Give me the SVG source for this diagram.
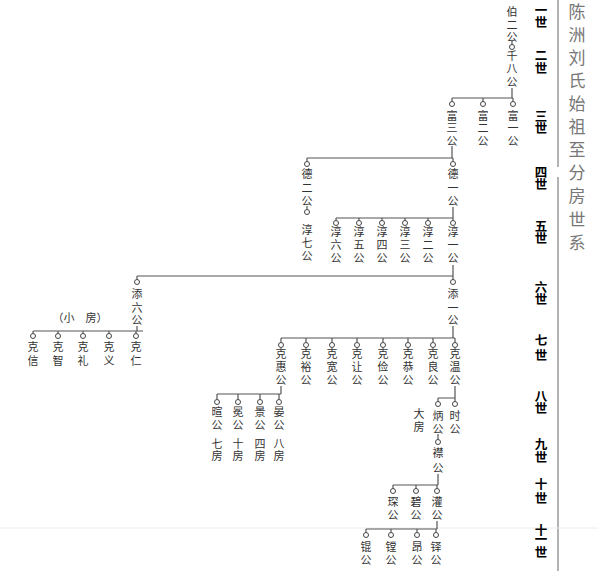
<svg xmlns="http://www.w3.org/2000/svg" width="598" height="571" viewBox="0 0 598 571">
<style>
.n{font-family:"Noto Sans CJK SC","Noto Sans CJK TC",sans-serif;font-size:11px;fill:#333;text-anchor:middle}
.g{font-family:"Noto Sans CJK SC",sans-serif;font-size:12.5px;font-weight:bold;fill:#000;text-anchor:middle}
.t{font-family:"Noto Sans CJK SC",sans-serif;font-size:17px;fill:#777;text-anchor:middle}
.c{fill:#fff;stroke:#444;stroke-width:1}
.l{fill:none;stroke:#555;stroke-width:1.2}
</style>
<rect width="598" height="571" fill="#fff"/>
<g id="frame">
<path d="M558,0V167M558,177V571" stroke="#999" stroke-width="1.5" fill="none"/>
<path d="M0,528H598" stroke="#ececec" stroke-width="1" fill="none"/>
</g>
<g id="title">
<text class="t"><tspan x="577" y="18">陈</tspan><tspan x="577" y="41">洲</tspan><tspan x="577" y="64">刘</tspan><tspan x="577" y="87">氏</tspan><tspan x="577" y="110">始</tspan><tspan x="577" y="133">祖</tspan><tspan x="577" y="156">至</tspan><tspan x="577" y="179">分</tspan><tspan x="577" y="202">房</tspan><tspan x="577" y="226">世</tspan><tspan x="577" y="249">系</tspan></text>
</g>
<g id="generations">
<text class="g"><tspan x="541" y="15">一</tspan><tspan x="541" y="27">世</tspan></text>
<text class="g"><tspan x="541" y="60">二</tspan><tspan x="541" y="73">世</tspan></text>
<text class="g"><tspan x="541" y="121">三</tspan><tspan x="541" y="133">世</tspan></text>
<text class="g"><tspan x="541" y="177">四</tspan><tspan x="541" y="189">世</tspan></text>
<text class="g"><tspan x="541" y="231">五</tspan><tspan x="541" y="243">世</tspan></text>
<text class="g"><tspan x="541" y="292">六</tspan><tspan x="541" y="304">世</tspan></text>
<text class="g"><tspan x="541" y="345">七</tspan><tspan x="541" y="360">世</tspan></text>
<text class="g"><tspan x="541" y="401">八</tspan><tspan x="541" y="413">世</tspan></text>
<text class="g"><tspan x="541" y="449">九</tspan><tspan x="541" y="462">世</tspan></text>
<text class="g"><tspan x="541" y="489">十</tspan><tspan x="541" y="503">世</tspan></text>
<text class="g"><tspan x="541" y="535">十</tspan><tspan x="541" y="544">一</tspan><tspan x="541" y="557">世</tspan></text>
</g>
<g id="connectors" class="l">
<path d="M512,41V44.5"/>
<path d="M512,88V98M452,98H513M452,98V101.5M483,98V101.5M513,98V101.5"/>
<path d="M452,146V158M307,158H453M307,158V161.5M453,158V161.5"/>
<path d="M307,206V209.5"/>
<path d="M453,207V218M336,218H453M336,218V220.5M359,218V220.5M382,218V220.5M405,218V220.5M428,218V220.5M453,218V220.5"/>
<path d="M453,265V276M137,276H453M137,276V279.5M453,276V279.5"/>
<path d="M453,326V338M281,338H455M281,338V342.5M306,338V342.5M332,338V342.5M357,338V342.5M383,338V342.5M408,338V342.5M433,338V342.5M455,338V342.5"/>
<path d="M137,326V331M33,331H143M33,331V333.5M58,331V333.5M83,331V333.5M109,331V333.5M136,331V333.5"/>
<path d="M281,386V394M217,394H281M217,394V399.5M238,394V399.5M260,394V399.5M279,394V399.5"/>
<path d="M455,386V398M438,398H455M438,398V401.5M455,398V401.5"/>
<path d="M438,434V439.5"/>
<path d="M438,474V485M393,485H438M393,485V488.5M416,485V488.5M437,485V488.5"/>
<path d="M437,521V529M366,529H437M366,529V532.5M391,529V532.5M417,529V532.5M436,529V532.5"/>
</g>
<g id="n-bo2"><text class="n"><tspan x="512" y="16">伯</tspan><tspan x="512" y="29">二</tspan><tspan x="512" y="41">公</tspan></text></g>
<g id="n-qian8"><circle class="c" cx="512" cy="47" r="2.5"/><text class="n"><tspan x="512" y="60">千</tspan><tspan x="512" y="73">八</tspan><tspan x="512" y="86">公</tspan></text></g>
<g id="n-fu3"><circle class="c" cx="452" cy="104" r="2.5"/><text class="n"><tspan x="452" y="120">富</tspan><tspan x="452" y="132">三</tspan><tspan x="452" y="145">公</tspan></text></g>
<g id="n-fu2"><circle class="c" cx="483" cy="104" r="2.5"/><text class="n"><tspan x="483" y="120">富</tspan><tspan x="483" y="132">二</tspan><tspan x="483" y="145">公</tspan></text></g>
<g id="n-fu1"><circle class="c" cx="513" cy="104" r="2.5"/><text class="n"><tspan x="513" y="120">富</tspan><tspan x="513" y="132">一</tspan><tspan x="513" y="145">公</tspan></text></g>
<g id="n-de2"><circle class="c" cx="307" cy="164" r="2.5"/><text class="n"><tspan x="307" y="178">德</tspan><tspan x="307" y="192">二</tspan><tspan x="307" y="205">公</tspan></text></g>
<g id="n-de1"><circle class="c" cx="453" cy="164" r="2.5"/><text class="n"><tspan x="453" y="178">德</tspan><tspan x="453" y="192">一</tspan><tspan x="453" y="205">公</tspan></text></g>
<g id="n-chun7"><circle class="c" cx="307" cy="212" r="2.5"/><text class="n"><tspan x="307" y="234">淳</tspan><tspan x="307" y="247">七</tspan><tspan x="307" y="260">公</tspan></text></g>
<g id="n-chun6"><circle class="c" cx="336" cy="223" r="2.5"/><text class="n"><tspan x="336" y="236">淳</tspan><tspan x="336" y="249">六</tspan><tspan x="336" y="262">公</tspan></text></g>
<g id="n-chun5"><circle class="c" cx="359" cy="223" r="2.5"/><text class="n"><tspan x="359" y="236">淳</tspan><tspan x="359" y="249">五</tspan><tspan x="359" y="262">公</tspan></text></g>
<g id="n-chun4"><circle class="c" cx="382" cy="223" r="2.5"/><text class="n"><tspan x="382" y="236">淳</tspan><tspan x="382" y="249">四</tspan><tspan x="382" y="262">公</tspan></text></g>
<g id="n-chun3"><circle class="c" cx="405" cy="223" r="2.5"/><text class="n"><tspan x="405" y="236">淳</tspan><tspan x="405" y="249">三</tspan><tspan x="405" y="262">公</tspan></text></g>
<g id="n-chun2"><circle class="c" cx="428" cy="223" r="2.5"/><text class="n"><tspan x="428" y="236">淳</tspan><tspan x="428" y="249">二</tspan><tspan x="428" y="262">公</tspan></text></g>
<g id="n-chun1"><circle class="c" cx="453" cy="223" r="2.5"/><text class="n"><tspan x="453" y="236">淳</tspan><tspan x="453" y="249">一</tspan><tspan x="453" y="262">公</tspan></text></g>
<g id="n-tian6"><circle class="c" cx="137" cy="282" r="2.5"/><text class="n"><tspan x="137" y="298">添</tspan><tspan x="137" y="312">六</tspan><tspan x="137" y="324">公</tspan></text></g>
<g id="n-tian1"><circle class="c" cx="453" cy="282" r="2.5"/><text class="n"><tspan x="453" y="298">添</tspan><tspan x="453" y="312">一</tspan><tspan x="453" y="324">公</tspan></text></g>
<g id="label-xiaofang"><text class="n" x="80" y="322" xml:space="preserve">（小　房）</text></g>
<g id="n-kexin"><circle class="c" cx="33" cy="336" r="2.5"/><text class="n"><tspan x="33" y="351">克</tspan><tspan x="33" y="365">信</tspan></text></g>
<g id="n-kezhi"><circle class="c" cx="58" cy="336" r="2.5"/><text class="n"><tspan x="58" y="351">克</tspan><tspan x="58" y="365">智</tspan></text></g>
<g id="n-keli"><circle class="c" cx="83" cy="336" r="2.5"/><text class="n"><tspan x="83" y="351">克</tspan><tspan x="83" y="365">礼</tspan></text></g>
<g id="n-keyi"><circle class="c" cx="109" cy="336" r="2.5"/><text class="n"><tspan x="109" y="351">克</tspan><tspan x="109" y="365">义</tspan></text></g>
<g id="n-keren"><circle class="c" cx="136" cy="336" r="2.5"/><text class="n"><tspan x="136" y="351">克</tspan><tspan x="136" y="365">仁</tspan></text></g>
<g id="n-kehui"><circle class="c" cx="281" cy="345" r="2.5"/><text class="n"><tspan x="281" y="358">克</tspan><tspan x="281" y="371">惠</tspan><tspan x="281" y="384">公</tspan></text></g>
<g id="n-keyu"><circle class="c" cx="306" cy="345" r="2.5"/><text class="n"><tspan x="306" y="358">克</tspan><tspan x="306" y="371">裕</tspan><tspan x="306" y="384">公</tspan></text></g>
<g id="n-kekuan"><circle class="c" cx="332" cy="345" r="2.5"/><text class="n"><tspan x="332" y="358">克</tspan><tspan x="332" y="371">宽</tspan><tspan x="332" y="384">公</tspan></text></g>
<g id="n-kerang"><circle class="c" cx="357" cy="345" r="2.5"/><text class="n"><tspan x="357" y="358">克</tspan><tspan x="357" y="371">让</tspan><tspan x="357" y="384">公</tspan></text></g>
<g id="n-kejian"><circle class="c" cx="383" cy="345" r="2.5"/><text class="n"><tspan x="383" y="358">克</tspan><tspan x="383" y="371">俭</tspan><tspan x="383" y="384">公</tspan></text></g>
<g id="n-kegong"><circle class="c" cx="408" cy="345" r="2.5"/><text class="n"><tspan x="408" y="358">克</tspan><tspan x="408" y="371">恭</tspan><tspan x="408" y="384">公</tspan></text></g>
<g id="n-keliang"><circle class="c" cx="433" cy="345" r="2.5"/><text class="n"><tspan x="433" y="358">克</tspan><tspan x="433" y="371">良</tspan><tspan x="433" y="384">公</tspan></text></g>
<g id="n-kewen"><circle class="c" cx="455" cy="345" r="2.5"/><text class="n"><tspan x="455" y="358">克</tspan><tspan x="455" y="371">温</tspan><tspan x="455" y="384">公</tspan></text></g>
<g id="n-xuan"><circle class="c" cx="217" cy="402" r="2.5"/><text class="n"><tspan x="217" y="416">暄</tspan><tspan x="217" y="429">公</tspan><tspan x="217" y="448">七</tspan><tspan x="217" y="460">房</tspan></text></g>
<g id="n-mian"><circle class="c" cx="238" cy="402" r="2.5"/><text class="n"><tspan x="238" y="416">冕</tspan><tspan x="238" y="429">公</tspan><tspan x="238" y="448">十</tspan><tspan x="238" y="460">房</tspan></text></g>
<g id="n-jing"><circle class="c" cx="260" cy="402" r="2.5"/><text class="n"><tspan x="260" y="416">景</tspan><tspan x="260" y="429">公</tspan><tspan x="260" y="448">四</tspan><tspan x="260" y="460">房</tspan></text></g>
<g id="n-yan"><circle class="c" cx="279" cy="402" r="2.5"/><text class="n"><tspan x="279" y="416">晏</tspan><tspan x="279" y="429">公</tspan><tspan x="279" y="448">八</tspan><tspan x="279" y="460">房</tspan></text></g>
<g id="n-bing"><circle class="c" cx="438" cy="404" r="2.5"/><text class="n"><tspan x="438" y="420">炳</tspan><tspan x="438" y="433">公</tspan></text><text class="n"><tspan x="419" y="418">大</tspan><tspan x="419" y="431">房</tspan></text></g>
<g id="n-shi"><circle class="c" cx="455" cy="404" r="2.5"/><text class="n"><tspan x="455" y="420">时</tspan><tspan x="455" y="433">公</tspan></text></g>
<g id="n-jin"><circle class="c" cx="438" cy="442" r="2.5"/><text class="n"><tspan x="438" y="457">襟</tspan><tspan x="438" y="472">公</tspan></text></g>
<g id="n-chen"><circle class="c" cx="393" cy="491" r="2.5"/><text class="n"><tspan x="393" y="506">琛</tspan><tspan x="393" y="519">公</tspan></text></g>
<g id="n-bi"><circle class="c" cx="416" cy="491" r="2.5"/><text class="n"><tspan x="416" y="506">碧</tspan><tspan x="416" y="519">公</tspan></text></g>
<g id="n-guan"><circle class="c" cx="437" cy="491" r="2.5"/><text class="n"><tspan x="437" y="506">灌</tspan><tspan x="437" y="519">公</tspan></text></g>
<g id="n-kun"><circle class="c" cx="366" cy="535" r="2.5"/><text class="n"><tspan x="366" y="551">锟</tspan><tspan x="366" y="564">公</tspan></text></g>
<g id="n-tang"><circle class="c" cx="391" cy="535" r="2.5"/><text class="n"><tspan x="391" y="551">镗</tspan><tspan x="391" y="564">公</tspan></text></g>
<g id="n-ang"><circle class="c" cx="417" cy="535" r="2.5"/><text class="n"><tspan x="417" y="551">昂</tspan><tspan x="417" y="564">公</tspan></text></g>
<g id="n-duo"><circle class="c" cx="436" cy="535" r="2.5"/><text class="n"><tspan x="436" y="551">铎</tspan><tspan x="436" y="564">公</tspan></text></g>
</svg>
